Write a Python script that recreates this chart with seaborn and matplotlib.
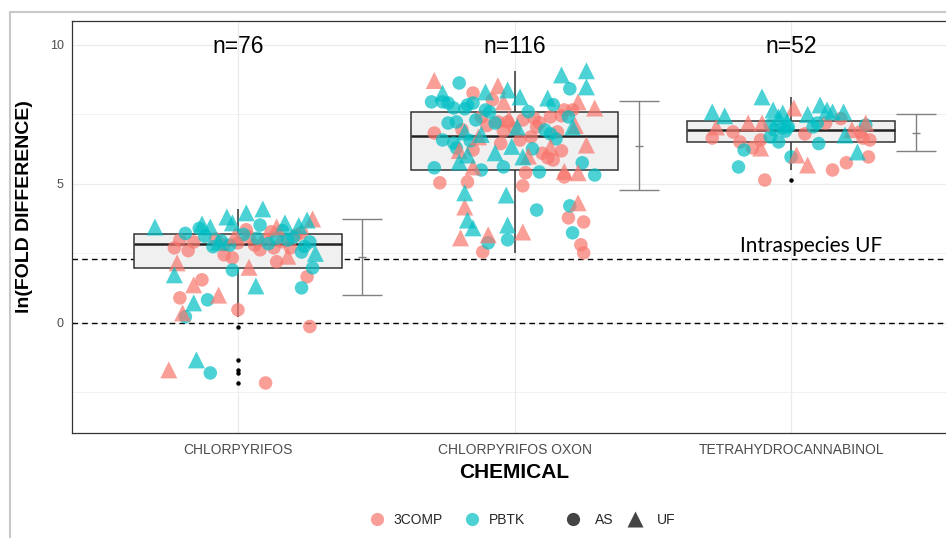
import numpy as np
import pandas as pd
import matplotlib
matplotlib.use("Agg")
import matplotlib.pyplot as plt
from matplotlib.lines import Line2D
from matplotlib.patches import Rectangle
import seaborn as sns

chemicals = ["CHLORPYRIFOS", "CHLORPYRIFOS OXON", "TETRAHYDROCANNABINOL"]
n_labels = ["n=76", "n=116", "n=52"]
models = ["3COMP", "PBTK"]
model_colors = ["#F8766D", "#00BFC4"]
types = ["AS", "UF"]
intraspecies_uf = np.log(10)

# (jitter offset, ln fold difference) for each point
cpf_3comp_as = [(-0.23, 2.70), (-0.21, 2.98), (-0.16, 2.91), (-0.13, 1.55), (-0.21, 0.90),
                (-0.05, 2.45), (-0.02, 2.34), (0.00, 0.47), (0.03, 3.35), (0.08, 2.63),
                (0.13, 2.70), (0.14, 2.20), (0.19, 2.70), (0.23, 3.24), (0.25, 1.66),
                (0.26, -0.13), (0.10, -2.16), (-0.05, 2.80), (0.06, 2.80), (-0.18, 2.60),
                (0.00, 2.88), (0.04, 3.10), (0.10, 3.00), (0.16, 2.92), (0.21, 3.15),
                (-0.08, 3.02), (0.12, 3.28)]
cpf_3comp_uf = [(0.27, 3.74), (-0.22, 2.16), (-0.16, 1.37), (-0.07, 1.00), (0.04, 2.00),
                (-0.20, 0.36), (-0.25, -1.69), (0.14, 3.45), (0.18, 2.40), (-0.01, 3.16)]
cpf_pbtk_as = [(-0.19, 3.22), (-0.09, 2.74), (-0.03, 2.80), (-0.02, 1.90), (0.08, 3.52),
               (0.07, 3.05), (0.14, 3.05), (0.18, 2.98), (0.23, 2.55), (0.26, 2.91),
               (0.27, 1.98), (0.23, 1.26), (-0.11, 0.83), (-0.19, 0.22), (-0.10, -1.80),
               (-0.12, 3.12), (-0.06, 2.95), (0.02, 3.18), (0.11, 2.85), (0.20, 3.08),
               (0.24, 2.75), (-0.14, 3.40), (0.16, 3.32)]
cpf_pbtk_uf = [(-0.30, 3.45), (-0.13, 3.56), (-0.10, 3.45), (-0.04, 3.81), (-0.02, 3.60),
               (0.03, 3.96), (0.09, 4.10), (0.17, 3.60), (0.25, 3.70), (0.28, 2.50),
               (-0.23, 1.73), (0.065, 1.33), (-0.16, 0.72), (-0.15, -1.33), (0.22, 3.50),
               (-0.07, 2.90)]

oxon_3comp_as = [(-0.15, 8.27), (-0.08, 8.02), (-0.12, 7.41), (-0.06, 7.23), (-0.025, 7.23),
                 (-0.29, 6.83), (-0.15, 6.22), (-0.27, 5.04), (-0.17, 5.07), (-0.115, 2.55),
                 (0.21, 7.66), (0.18, 7.66), (0.03, 7.30), (0.07, 7.37), (0.13, 7.41),
                 (0.155, 6.87), (0.08, 7.05), (0.06, 6.69), (0.02, 6.58), (0.17, 6.19),
                 (0.12, 5.94), (0.14, 5.86), (0.04, 5.40), (0.18, 5.25), (0.03, 4.93),
                 (0.195, 3.78), (0.25, 3.63), (0.24, 2.81), (0.25, 2.52), (-0.05, 6.45),
                 (0.10, 6.10), (0.00, 7.00), (-0.04, 6.90), (0.09, 7.20), (-0.10, 7.10),
                 (0.17, 7.45), (-0.19, 6.95)]
oxon_3comp_uf = [(-0.29, 8.72), (-0.06, 8.53), (-0.13, 6.69), (-0.15, 5.61), (-0.18, 4.17),
                 (-0.195, 3.06), (-0.095, 3.17), (0.23, 7.95), (0.29, 7.73), (0.26, 6.40),
                 (0.13, 6.33), (0.23, 5.40), (0.23, 4.32), (0.03, 3.27), (0.05, 6.00),
                 (-0.20, 6.20), (0.18, 5.45), (-0.02, 7.35), (0.22, 7.10), (-0.04, 7.95)]
oxon_pbtk_as = [(-0.20, 8.63), (-0.30, 7.95), (-0.26, 7.95), (-0.24, 7.91), (-0.22, 7.73),
                (-0.17, 7.84), (-0.15, 7.91), (-0.105, 7.66), (-0.09, 7.59), (-0.07, 7.19),
                (-0.21, 7.23), (-0.24, 7.19), (-0.26, 6.58), (-0.22, 6.47), (-0.21, 6.29),
                (-0.04, 5.61), (-0.29, 5.58), (-0.025, 2.99), (-0.095, 2.88), (0.20, 8.42),
                (0.195, 7.41), (0.11, 6.94), (0.065, 6.26), (0.245, 5.76), (0.09, 5.43),
                (0.29, 5.32), (0.08, 4.06), (0.20, 4.21), (0.21, 3.24), (-0.16, 6.55),
                (-0.12, 5.50), (0.15, 6.62), (-0.14, 7.30), (0.05, 7.60), (0.13, 6.80),
                (-0.18, 7.70), (0.14, 7.85)]
oxon_pbtk_uf = [(-0.26, 8.27), (-0.105, 8.31), (-0.025, 8.38), (-0.18, 6.87), (-0.07, 6.12),
                (-0.17, 6.04), (-0.20, 5.79), (-0.18, 4.68), (-0.03, 4.60), (-0.17, 3.70),
                (-0.15, 3.42), (-0.025, 3.52), (0.17, 8.92), (0.26, 9.07), (0.26, 8.49),
                (0.02, 8.13), (0.12, 8.09), (0.21, 7.05), (0.01, 7.05), (0.03, 5.97),
                (-0.01, 6.35), (-0.12, 6.78)]

thc_3comp_as = [(-0.285, 6.65), (-0.21, 6.87), (-0.185, 6.51), (-0.11, 6.58), (-0.095, 5.14),
                (0.125, 7.19), (0.15, 5.50), (0.20, 5.76), (0.25, 6.87), (0.26, 6.65),
                (0.285, 6.58), (0.28, 5.97), (-0.14, 6.30), (0.05, 6.80), (0.18, 7.35)]
thc_3comp_uf = [(0.01, 7.73), (-0.27, 7.05), (-0.155, 7.19), (-0.105, 7.19), (0.27, 7.19),
                (-0.11, 6.29), (0.02, 6.04), (0.06, 5.68), (0.22, 6.95)]
thc_pbtk_as = [(-0.075, 7.12), (-0.06, 6.94), (-0.03, 7.01), (-0.01, 7.05), (-0.075, 6.69),
               (-0.045, 6.51), (-0.17, 6.22), (-0.19, 5.61), (0.00, 5.97), (0.08, 7.05),
               (0.095, 7.19), (0.27, 7.12), (0.10, 6.45), (-0.02, 6.90)]
thc_pbtk_uf = [(-0.285, 7.59), (-0.105, 8.13), (-0.065, 7.66), (-0.03, 7.55), (-0.045, 7.41),
               (-0.015, 7.23), (0.105, 7.84), (0.13, 7.66), (0.15, 7.59), (0.19, 7.59),
               (0.195, 6.76), (0.24, 6.15), (0.06, 7.50), (-0.24, 7.45)]

groups = [
    (0, "3COMP", "AS", cpf_3comp_as), (0, "3COMP", "UF", cpf_3comp_uf),
    (0, "PBTK", "AS", cpf_pbtk_as), (0, "PBTK", "UF", cpf_pbtk_uf),
    (1, "3COMP", "AS", oxon_3comp_as), (1, "3COMP", "UF", oxon_3comp_uf),
    (1, "PBTK", "AS", oxon_pbtk_as), (1, "PBTK", "UF", oxon_pbtk_uf),
    (2, "3COMP", "AS", thc_3comp_as), (2, "3COMP", "UF", thc_3comp_uf),
    (2, "PBTK", "AS", thc_pbtk_as), (2, "PBTK", "UF", thc_pbtk_uf),
]

rows = []
for ci, model, atype, pts in groups:
    for dx, val in pts:
        rows.append({"chem": chemicals[ci], "xpos": ci + dx, "val": val,
                     "model": model, "type": atype})
df = pd.DataFrame(rows)

sns.set_theme(style="white")
plt.rcParams["font.family"] = ["Liberation Sans", "DejaVu Sans"]

fig = plt.figure(figsize=(9.46, 5.38), dpi=100)
ax = fig.add_axes([72 / 946, 105 / 538, 885 / 946, 412 / 538])

# reference lines (under the boxes)
for yv in [0, intraspecies_uf]:
    ax.axhline(yv, color="black", linestyle=(0, (4, 3)), linewidth=1.0, zorder=1.5)

sns.boxplot(
    data=df, x="chem", y="val", order=chemicals, width=0.75,
    color="#F0F0F0", saturation=1, linecolor="#333333", linewidth=1.1,
    fliersize=2.2, showcaps=False,
    flierprops=dict(marker="o", markerfacecolor="black", markeredgecolor="black"),
    medianprops=dict(linewidth=1.8, color="#222222"),
    ax=ax, zorder=2,
)

palette = dict(zip(models, model_colors))
sns.scatterplot(data=df[df["type"] == "AS"], x="xpos", y="val", hue="model",
                hue_order=models, palette=palette, marker="o", s=95, alpha=0.7,
                linewidth=0, legend=False, ax=ax, zorder=3)
sns.scatterplot(data=df[df["type"] == "UF"], x="xpos", y="val", hue="model",
                hue_order=models, palette=palette, marker="^", s=150, alpha=0.7,
                linewidth=0, legend=False, ax=ax, zorder=3)

# mean +/- sd next to each box
stats = df.groupby("chem")["val"].agg(["mean", "std"]).reindex(chemicals)
ax.errorbar(np.arange(len(chemicals)) + 0.45, stats["mean"], yerr=stats["std"],
            fmt="_", color="#808080", ecolor="#808080", elinewidth=1.0,
            capsize=14.5, capthick=1.0, markersize=6, zorder=3)

for i, lab in enumerate(n_labels):
    ax.text(i, 9.93, lab, ha="center", va="center", fontsize=16.5, color="black")

ax.text(1.815, 2.78, "Intraspecies UF", ha="left", va="center", fontsize=15,
        color="black", family=["Lato", "DejaVu Sans"])

ax.set_xlim(-0.6, 2.6)
ax.set_ylim(-3.96, 10.86)
ax.set_yticks([0, 5, 10])
ax.set_yticks([-2.5, 2.5, 7.5], minor=True)
ax.set_xticks(range(len(chemicals)))
ax.set_xticklabels(chemicals)
ax.grid(which="major", color="#EBEBEB", linewidth=0.9, zorder=0)
ax.grid(which="minor", axis="y", color="#EBEBEB", linewidth=0.5, zorder=0)
ax.set_axisbelow(True)
ax.tick_params(axis="both", which="major", direction="out", length=3, width=0.8,
               color="#333333", labelcolor="#4D4D4D", pad=3)
ax.tick_params(axis="y", which="major", labelsize=9)
ax.tick_params(axis="x", which="major", labelsize=10, pad=4)
ax.tick_params(which="minor", length=0)
for sp in ax.spines.values():
    sp.set_color("#333333")
    sp.set_linewidth(0.9)

ax.set_xlabel("CHEMICAL", fontsize=15, fontweight="bold", color="black")
ax.set_ylabel("ln(FOLD DIFFERENCE)", fontsize=14, fontweight="bold", color="black")
ax.xaxis.set_label_coords((514 - 72) / 885, -0.072)
ax.yaxis.set_label_coords((33 - 72) / 885, (433 - 207) / 412)

# legends at the bottom
h_model = [Line2D([], [], marker="o", linestyle="", markersize=9.5, markerfacecolor=c,
                  markeredgecolor="none", alpha=0.7) for c in model_colors]
h_type = [Line2D([], [], marker="o", linestyle="", markersize=9.5, markerfacecolor="#444444",
                 markeredgecolor="none"),
          Line2D([], [], marker="^", linestyle="", markersize=11, markerfacecolor="#444444",
                 markeredgecolor="none")]
fig.legend(h_model, models, loc="center", bbox_to_anchor=(447 / 946, 18 / 538),
           ncol=2, frameon=False, fontsize=10, handletextpad=0.6,
           columnspacing=1.5, handlelength=1.2)
fig.legend(h_type, types, loc="center", bbox_to_anchor=(620 / 946, 18 / 538),
           ncol=2, frameon=False, fontsize=10, handletextpad=1.0,
           columnspacing=0.9, handlelength=1.2)

# thin outer frame of the original figure
fig.patches.append(Rectangle((10 / 946, -0.02), 1.1, (538 - 12) / 538 + 0.02,
                             transform=fig.transFigure, fill=False,
                             edgecolor="#C8C8C8", linewidth=1.5))

fig.savefig("out.png", dpi=100)
plt.close(fig)
